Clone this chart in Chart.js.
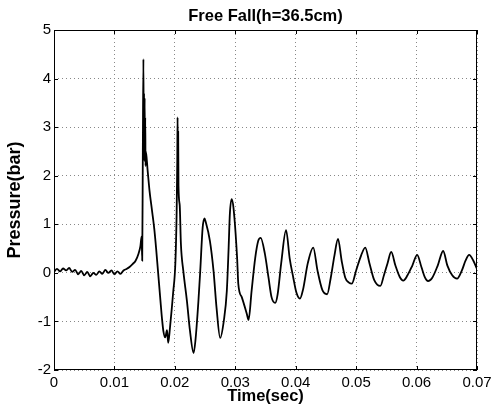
<!DOCTYPE html>
<html>
<head>
<meta charset="utf-8">
<style>
html,body{margin:0;padding:0;background:#fff;}
#wrap{width:492px;height:412px;}
</style>
<script src="https://cdn.jsdelivr.net/npm/chart.js@4/dist/chart.umd.min.js"></script>
</head>
<body>
<div id="wrap"><canvas id="c" width="492" height="412"></canvas></div>
<script>
const chartTitle = 'Free Fall(h=36.5cm)';
const xAxisTitle = 'Time(sec)';
const yAxisTitle = 'Pressure(bar)';
const xTickLabels = ['0','0.01','0.02','0.03','0.04','0.05','0.06','0.07'];
const yTickLabels = ['-2','-1','0','1','2','3','4','5'];

const timeSec = [
  0,0.0005,0.001,0.0015,0.002,0.0025,0.003,0.0035,0.004,0.0045,0.005,0.0055,0.006,0.0065,0.007,0.0075,0.008,0.0085,0.009,0.0095,
  0.01,0.0105,0.011,0.0115,0.012,0.0125,0.013,0.0135,0.014,0.0143,0.0145,0.0146,0.0147,0.0148,0.01485,0.0149,0.01495,0.015,0.01505,0.0151,
  0.01515,0.0152,0.0155,0.0158,0.0162,0.0166,0.0169,0.0172,0.0176,0.0179,0.0181,0.0184,0.0187,0.0189,0.0192,0.0195,0.0197,0.0201,0.0203,0.0204,
  0.02045,0.0205,0.02055,0.0206,0.0208,0.021,0.0214,0.022,0.0225,0.0231,0.0234,0.0239,0.0242,0.0246,0.0249,0.0251,0.0258,0.0264,0.0269,0.0275,
  0.0281,0.0286,0.0289,0.0291,0.0294,0.0297,0.0303,0.0305,0.0311,0.0319,0.0322,0.0327,0.0333,0.0338,0.0342,0.0349,0.0355,0.036,0.0366,0.037,
  0.0376,0.0384,0.039,0.0396,0.0401,0.0407,0.0412,0.042,0.0429,0.0436,0.0444,0.0452,0.0458,0.0464,0.047,0.0476,0.0482,0.0488,0.0493,0.05,
  0.0508,0.0515,0.0522,0.053,0.054,0.0546,0.0552,0.0558,0.0565,0.0572,0.0578,0.0585,0.0593,0.0601,0.0608,0.0614,0.0619,0.0626,0.0635,0.0644,
  0.0651,0.0659,0.0667,0.0675,0.0681,0.0687,0.0694,0.07
];
const pressureBar = [
  0.02,0.08,0.03,0.09,0.05,0.1,0.02,0.06,-0.03,0.04,-0.05,0.02,-0.07,0.0,-0.04,0.03,-0.02,0.06,0.0,0.05,
  -0.03,0.03,-0.02,0.05,0.08,0.12,0.18,0.25,0.4,0.55,0.75,0.25,2.5,4.4,2.6,3.7,2.3,3.6,2.4,3.2,
  2.2,2.5,2.1,1.7,1.3,0.9,0.5,0.05,-0.55,-0.98,-1.2,-1.33,-1.18,-1.44,-1.12,-0.72,-0.43,0.25,1.28,2.3,
  3.2,2.4,2.9,1.8,1.4,0.6,0.04,-0.58,-1.19,-1.65,-1.4,-0.58,0.04,0.93,1.12,1.05,0.66,0.04,-0.72,-1.34,
  -0.99,-0.37,0.52,1.21,1.52,1.34,0.31,-0.23,-0.51,-0.84,-0.97,-0.37,0.31,0.66,0.72,0.39,-0.1,-0.5,-0.62,-0.45,
  0.2,0.88,0.3,-0.1,-0.4,-0.53,-0.35,0.2,0.52,0.05,-0.35,-0.44,-0.1,0.35,0.7,0.25,-0.1,-0.2,-0.22,0.05,
  0.35,0.52,0.2,-0.15,-0.27,-0.05,0.2,0.43,0.15,-0.08,-0.16,-0.05,0.15,0.37,0.12,-0.1,-0.17,-0.1,0.15,0.45,
  0.15,-0.05,-0.12,0.05,0.25,0.37,0.25,0.08
];

const FONT = "Arial, 'Liberation Sans', Helvetica, sans-serif";

const boxPlugin = {
  id: 'boxPlugin',
  afterDatasetsDraw(chart) {
    const {ctx, chartArea: a, scales} = chart;
    ctx.save();
    ctx.strokeStyle = '#000';
    ctx.lineWidth = 1;
    ctx.strokeRect(a.left + 0.5, a.top + 0.5, a.right - a.left - 1, a.bottom - a.top - 1);
    ctx.beginPath();
    const tl = 4;
    scales.x.ticks.forEach(t => {
      const px = Math.round(scales.x.getPixelForValue(t.value)) + 0.5;
      ctx.moveTo(px, a.bottom); ctx.lineTo(px, a.bottom - tl);
      ctx.moveTo(px, a.top); ctx.lineTo(px, a.top + tl);
    });
    scales.y.ticks.forEach(t => {
      const py = Math.round(scales.y.getPixelForValue(t.value)) + 0.5;
      ctx.moveTo(a.left, py); ctx.lineTo(a.left + tl, py);
      ctx.moveTo(a.right, py); ctx.lineTo(a.right - tl, py);
    });
    ctx.stroke();
    ctx.restore();
  }
};

const points = timeSec.map((t, i) => ({x: t, y: pressureBar[i]}));

new Chart(document.getElementById('c'), {
  type: 'line',
  data: {
    datasets: [{
      data: points,
      borderColor: '#000',
      borderWidth: 1.8,
      pointRadius: 0,
      fill: false,
      cubicInterpolationMode: 'monotone'
    }]
  },
  plugins: [boxPlugin],
  options: {
    responsive: false,
    animation: false,
    events: [],
    layout: {padding: {left: 0, right: 0, top: 0, bottom: 0}},
    plugins: {
      legend: {display: false},
      tooltip: {enabled: false},
      title: {
        display: true,
        fullSize: false,
        text: chartTitle,
        color: '#000',
        font: {family: FONT, size: 16.5, weight: 'bold'},
        padding: {top: 7, bottom: 3.2}
      }
    },
    scales: {
      x: {
        type: 'linear',
        min: 0, max: 0.07,
        afterBuildTicks(scale) {
          scale.ticks = xTickLabels.map(s => ({value: parseFloat(s)}));
        },
        afterFit(scale) { scale.height = 42; scale.paddingRight = 15; scale.paddingLeft = 0; },
        grid: {color: '#888', lineWidth: 1, drawTicks: false, tickLength: 0},
        border: {display: false, dash: [1, 3]},
        ticks: {
          color: '#000',
          font: {family: FONT, size: 15},
          padding: 4,
          maxRotation: 0,
          autoSkip: false,
          callback: (v, i) => xTickLabels[i]
        },
        title: {
          display: true,
          text: xAxisTitle,
          color: '#000',
          font: {family: FONT, size: 16.5, weight: 'bold'},
          padding: {top: 0, bottom: 6}
        }
      },
      y: {
        type: 'linear',
        min: -2, max: 5,
        afterBuildTicks(scale) {
          scale.ticks = yTickLabels.map(s => ({value: parseFloat(s)}));
        },
        afterFit(scale) { scale.width = 54; },
        grid: {color: '#888', lineWidth: 1, drawTicks: false, tickLength: 0},
        border: {display: false, dash: [1, 3]},
        ticks: {
          color: '#000',
          font: {family: FONT, size: 15},
          padding: 3,
          autoSkip: false,
          callback: (v, i) => yTickLabels[i]
        },
        title: {
          display: true,
          text: yAxisTitle,
          color: '#000',
          font: {family: FONT, size: 18, weight: 'bold'},
          padding: {top: 4, bottom: 0}
        }
      }
    }
  }
});
</script>
</body>
</html>
